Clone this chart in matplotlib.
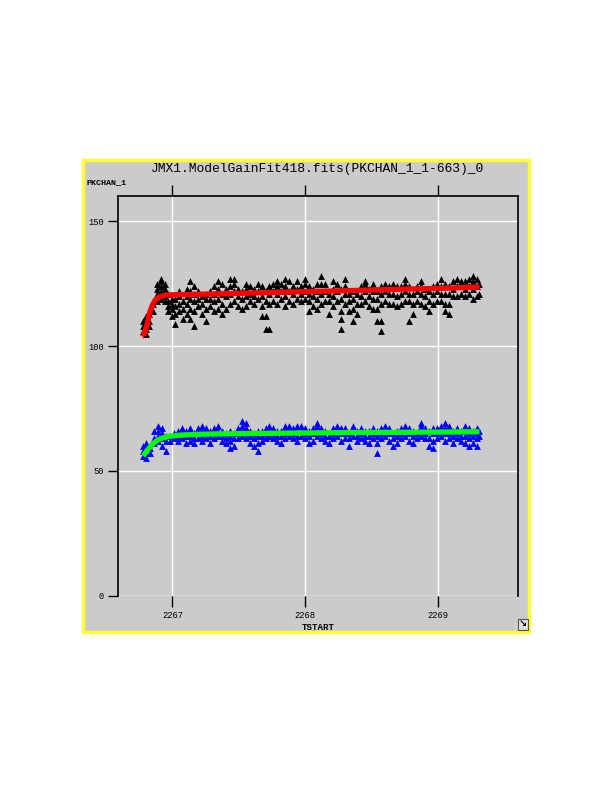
import numpy as np
import matplotlib
matplotlib.use('Agg')
import matplotlib.pyplot as plt
from matplotlib.patches import Rectangle

# Gain data (black)
black_t = [2266.78, 2266.78, 2266.78,
           2266.80, 2266.80, 2266.80, 2266.80, 2266.80,
           2266.82, 2266.82, 2266.82,
           2266.85, 2266.85,
           2266.88, 2266.88, 2266.88, 2266.88,
           2266.91, 2266.91, 2266.91, 2266.91, 2266.91,
           2266.94, 2266.94, 2266.94, 2266.94,
           2266.97, 2266.97, 2266.97, 2266.97,
           2267.00, 2267.00, 2267.00, 2267.00,
           2267.02, 2267.02, 2267.02, 2267.02,
           2267.05, 2267.05, 2267.05, 2267.05,
           2267.08, 2267.08, 2267.08,
           2267.11, 2267.11, 2267.11, 2267.11,
           2267.13, 2267.13, 2267.13, 2267.13, 2267.13,
           2267.16, 2267.16, 2267.16, 2267.16, 2267.16,
           2267.19, 2267.19, 2267.19,
           2267.22, 2267.22, 2267.22,
           2267.25, 2267.25, 2267.25, 2267.25,
           2267.28, 2267.28, 2267.28,
           2267.31, 2267.31, 2267.31, 2267.31,
           2267.34, 2267.34, 2267.34, 2267.34,
           2267.37, 2267.37, 2267.37, 2267.37,
           2267.40, 2267.40, 2267.40,
           2267.43, 2267.43, 2267.43, 2267.43,
           2267.46, 2267.46, 2267.46, 2267.46,
           2267.49, 2267.49, 2267.49,
           2267.52, 2267.52, 2267.52,
           2267.55, 2267.55, 2267.55, 2267.55,
           2267.58, 2267.58, 2267.58,
           2267.61, 2267.61, 2267.61,
           2267.64, 2267.64, 2267.64,
           2267.67, 2267.67, 2267.67, 2267.67,
           2267.70, 2267.70, 2267.70, 2267.70,
           2267.73, 2267.73, 2267.73, 2267.73,
           2267.76, 2267.76, 2267.76,
           2267.79, 2267.79, 2267.79, 2267.79,
           2267.82, 2267.82, 2267.82,
           2267.85, 2267.85, 2267.85, 2267.85,
           2267.88, 2267.88, 2267.88,
           2267.91, 2267.91, 2267.91,
           2267.94, 2267.94, 2267.94,
           2267.97, 2267.97, 2267.97,
           2268.00, 2268.00, 2268.00, 2268.00,
           2268.03, 2268.03, 2268.03, 2268.03,
           2268.06, 2268.06, 2268.06,
           2268.09, 2268.09, 2268.09, 2268.09,
           2268.12, 2268.12, 2268.12, 2268.12,
           2268.15, 2268.15, 2268.15,
           2268.18, 2268.18, 2268.18,
           2268.21, 2268.21, 2268.21, 2268.21,
           2268.24, 2268.24, 2268.24,
           2268.27, 2268.27, 2268.27, 2268.27, 2268.27,
           2268.30, 2268.30, 2268.30, 2268.30,
           2268.33, 2268.33, 2268.33,
           2268.36, 2268.36, 2268.36, 2268.36,
           2268.39, 2268.39, 2268.39,
           2268.42, 2268.42, 2268.42,
           2268.45, 2268.45, 2268.45, 2268.45,
           2268.48, 2268.48, 2268.48,
           2268.51, 2268.51, 2268.51, 2268.51,
           2268.54, 2268.54, 2268.54, 2268.54,
           2268.57, 2268.57, 2268.57, 2268.57, 2268.57,
           2268.60, 2268.60, 2268.60,
           2268.63, 2268.63, 2268.63,
           2268.66, 2268.66, 2268.66,
           2268.69, 2268.69, 2268.69,
           2268.72, 2268.72, 2268.72,
           2268.75, 2268.75, 2268.75, 2268.75,
           2268.78, 2268.78, 2268.78, 2268.78,
           2268.81, 2268.81, 2268.81,
           2268.84, 2268.84, 2268.84,
           2268.87, 2268.87, 2268.87, 2268.87,
           2268.90, 2268.90, 2268.90,
           2268.93, 2268.93, 2268.93,
           2268.96, 2268.96, 2268.96,
           2268.99, 2268.99, 2268.99,
           2269.02, 2269.02, 2269.02, 2269.02,
           2269.05, 2269.05, 2269.05, 2269.05,
           2269.08, 2269.08, 2269.08, 2269.08,
           2269.11, 2269.11, 2269.11,
           2269.14, 2269.14, 2269.14,
           2269.17, 2269.17, 2269.17,
           2269.20, 2269.20, 2269.20,
           2269.23, 2269.23, 2269.23,
           2269.26, 2269.26, 2269.26, 2269.26,
           2269.29, 2269.29, 2269.29,
           2269.31, 2269.31]
black_v = [106, 108, 110,
           105, 107, 109, 111, 112,
           108, 110, 113,
           114, 117,
           118, 121, 123, 125,
           119, 122, 124, 126, 127,
           118, 120, 123, 125,
           114, 116, 118, 121,
           112, 115, 117, 119,
           109, 113, 116, 119,
           114, 117, 120, 122,
           111, 115, 118,
           113, 117, 120, 123,
           111, 115, 119, 122, 126,
           108, 114, 118, 121, 124,
           116, 119, 122,
           113, 117, 120,
           110, 115, 119, 121,
           116, 119, 122,
           114, 118, 121, 124,
           115, 119, 123, 126,
           113, 117, 121, 125,
           115, 120, 123,
           117, 121, 124, 127,
           118, 122, 125, 127,
           116, 120, 123,
           115, 119, 122,
           116, 120, 123, 125,
           118, 121, 124,
           117, 120, 123,
           119, 122, 125,
           112, 116, 120, 124,
           107, 112, 118, 122,
           107, 117, 121, 124,
           118, 122, 125,
           117, 121, 124, 126,
           119, 122, 125,
           116, 120, 124, 127,
           118, 122, 126,
           117, 121, 124,
           119, 123, 126,
           118, 121, 124,
           119, 122, 125, 127,
           114, 118, 121, 124,
           116, 120, 123,
           115, 119, 122, 125,
           117, 121, 125, 128,
           118, 122, 125,
           113, 118, 121,
           116, 120, 123, 126,
           118, 122, 125,
           107, 111, 114, 119, 123,
           117, 121, 124, 127,
           114, 118, 121,
           110, 115, 119, 122,
           113, 117, 121,
           117, 120, 124,
           118, 122, 125, 126,
           116, 120, 123,
           115, 119, 122, 125,
           110, 115, 119, 122,
           106, 110, 117, 121, 124,
           118, 122, 125,
           117, 121, 124,
           117, 121, 125,
           116, 120, 124,
           117, 121, 124,
           118, 122, 125, 127,
           110, 118, 121, 124,
           113, 117, 121,
           118, 122, 124,
           117, 121, 124, 126,
           116, 120, 123,
           114, 118, 122,
           117, 121, 124,
           118, 122, 125,
           118, 121, 124, 127,
           114, 117, 121, 125,
           113, 117, 121, 124,
           120, 123, 126,
           120, 124, 127,
           121, 124, 126,
           120, 123, 126,
           121, 124, 127,
           119, 123, 126, 128,
           120, 124, 127,
           121, 125]

# Gain data (blue)
blue_t = [2266.78, 2266.78, 2266.78,
          2266.80, 2266.80, 2266.80, 2266.80,
          2266.83, 2266.83,
          2266.86, 2266.86, 2266.86,
          2266.89, 2266.89, 2266.89, 2266.89,
          2266.92, 2266.92, 2266.92, 2266.92,
          2266.95, 2266.95, 2266.95,
          2266.98, 2266.98,
          2267.01, 2267.01,
          2267.04, 2267.04, 2267.04,
          2267.07, 2267.07, 2267.07,
          2267.10, 2267.10, 2267.10,
          2267.13, 2267.13, 2267.13, 2267.13,
          2267.16, 2267.16, 2267.16,
          2267.19, 2267.19, 2267.19,
          2267.22, 2267.22, 2267.22, 2267.22,
          2267.25, 2267.25, 2267.25,
          2267.28, 2267.28, 2267.28,
          2267.31, 2267.31, 2267.31,
          2267.34, 2267.34, 2267.34,
          2267.37, 2267.37, 2267.37,
          2267.40, 2267.40, 2267.40,
          2267.43, 2267.43, 2267.43, 2267.43,
          2267.46, 2267.46, 2267.46,
          2267.49, 2267.49, 2267.49,
          2267.52, 2267.52, 2267.52, 2267.52,
          2267.55, 2267.55, 2267.55, 2267.55,
          2267.58, 2267.58, 2267.58,
          2267.61, 2267.61, 2267.61,
          2267.64, 2267.64, 2267.64, 2267.64,
          2267.67, 2267.67, 2267.67,
          2267.70, 2267.70, 2267.70,
          2267.73, 2267.73, 2267.73,
          2267.76, 2267.76, 2267.76,
          2267.79, 2267.79, 2267.79,
          2267.82, 2267.82, 2267.82,
          2267.85, 2267.85, 2267.85, 2267.85,
          2267.88, 2267.88, 2267.88,
          2267.91, 2267.91, 2267.91,
          2267.94, 2267.94, 2267.94, 2267.94,
          2267.97, 2267.97, 2267.97,
          2268.00, 2268.00, 2268.00,
          2268.03, 2268.03, 2268.03,
          2268.06, 2268.06, 2268.06,
          2268.09, 2268.09, 2268.09, 2268.09,
          2268.12, 2268.12, 2268.12,
          2268.15, 2268.15, 2268.15,
          2268.18, 2268.18,
          2268.21, 2268.21, 2268.21,
          2268.24, 2268.24, 2268.24,
          2268.27, 2268.27, 2268.27,
          2268.30, 2268.30, 2268.30,
          2268.33, 2268.33, 2268.33,
          2268.36, 2268.36, 2268.36,
          2268.39, 2268.39, 2268.39,
          2268.42, 2268.42, 2268.42,
          2268.45, 2268.45, 2268.45,
          2268.48, 2268.48, 2268.48,
          2268.51, 2268.51, 2268.51,
          2268.54, 2268.54, 2268.54, 2268.54,
          2268.57, 2268.57, 2268.57,
          2268.60, 2268.60, 2268.60,
          2268.63, 2268.63, 2268.63,
          2268.66, 2268.66, 2268.66,
          2268.69, 2268.69, 2268.69,
          2268.72, 2268.72, 2268.72,
          2268.75, 2268.75, 2268.75,
          2268.78, 2268.78, 2268.78,
          2268.81, 2268.81, 2268.81,
          2268.84, 2268.84,
          2268.87, 2268.87, 2268.87, 2268.87,
          2268.90, 2268.90, 2268.90,
          2268.93, 2268.93, 2268.93,
          2268.96, 2268.96, 2268.96, 2268.96,
          2268.99, 2268.99, 2268.99,
          2269.02, 2269.02, 2269.02,
          2269.05, 2269.05, 2269.05, 2269.05,
          2269.08, 2269.08, 2269.08,
          2269.11, 2269.11, 2269.11,
          2269.14, 2269.14, 2269.14,
          2269.17, 2269.17, 2269.17,
          2269.20, 2269.20, 2269.20, 2269.20,
          2269.23, 2269.23, 2269.23, 2269.23,
          2269.26, 2269.26, 2269.26,
          2269.29, 2269.29, 2269.29, 2269.29,
          2269.31, 2269.31]
blue_v = [56, 58, 60,
          55, 57, 59, 61,
          57, 59,
          61, 63, 66,
          62, 64, 66, 68,
          60, 63, 65, 67,
          58, 62, 64,
          62, 64,
          63, 65,
          62, 64, 66,
          63, 65, 67,
          61, 64, 66,
          62, 64, 66, 67,
          61, 63, 65,
          63, 65, 67,
          62, 64, 66, 68,
          63, 65, 67,
          61, 64, 66,
          63, 65, 67,
          64, 66, 68,
          62, 64, 66,
          61, 63, 65,
          59, 62, 64, 66,
          60, 63, 65,
          63, 65, 67,
          64, 66, 68, 70,
          63, 65, 67, 69,
          61, 64, 66,
          60, 63, 65,
          58, 61, 64, 66,
          62, 64, 66,
          63, 65, 67,
          64, 66, 68,
          63, 65, 67,
          62, 64, 66,
          61, 64, 66,
          63, 65, 67, 68,
          64, 66, 68,
          63, 65, 67,
          62, 64, 66, 68,
          64, 66, 68,
          63, 65, 67,
          61, 64, 66,
          62, 65, 67,
          64, 66, 68, 69,
          63, 65, 67,
          62, 64, 66,
          61, 64,
          63, 65, 67,
          64, 66, 68,
          62, 65, 67,
          63, 65, 67,
          60, 63, 65,
          64, 66, 68,
          62, 64, 66,
          63, 65, 67,
          62, 64, 66,
          61, 64, 66,
          63, 65, 67,
          57, 61, 64, 66,
          63, 65, 67,
          64, 66, 68,
          62, 65, 67,
          60, 63, 65,
          61, 64, 66,
          63, 65, 67,
          64, 66, 68,
          62, 65, 67,
          61, 64, 66,
          63, 65,
          64, 66, 68, 69,
          63, 65, 67,
          60, 63, 66,
          59, 62, 65, 67,
          63, 65, 67,
          64, 66, 68,
          62, 65, 67, 69,
          63, 65, 68,
          61, 64, 66,
          63, 65, 67,
          62, 64, 66,
          61, 64, 66, 68,
          60, 63, 65, 67,
          61, 64, 66,
          60, 63, 65, 67,
          64, 66]

# Model fits
red_t = [2266.78, 2266.795, 2266.81, 2266.82, 2266.832, 2266.85, 2266.87, 2266.89,
         2266.91, 2266.945, 2267.0, 2267.1, 2267.3, 2267.6, 2267.9, 2268.2,
         2268.5, 2268.8, 2269.1, 2269.31]
red_v = [104.5, 106.0, 109.0, 111.5, 114.0, 116.5, 118.4, 119.3,
         119.8, 120.3, 120.5, 120.6, 120.8, 121.2, 121.6, 122.0,
         122.4, 122.8, 123.2, 123.6]
green_t = [2266.78, 2266.80, 2266.83, 2266.86, 2266.89, 2266.93, 2266.98, 2267.05,
           2267.15, 2267.3, 2267.6, 2268.0, 2268.4, 2268.8, 2269.1, 2269.31]
green_v = [56.0, 57.5, 59.6, 61.2, 62.4, 63.3, 63.9, 64.3,
           64.6, 64.8, 65.0, 65.2, 65.4, 65.5, 65.6, 65.7]

x_ticks = [2267, 2268, 2269]
y_ticks = [0, 50, 100, 150]

gray = '#cbcbcb'
mono = 'Liberation Mono'

fig = plt.figure(figsize=(6.12, 7.92), dpi=100)
fig.patch.set_facecolor('white')

# Yellow-framed panel, drawn behind the axes
fig.patches.append(Rectangle((0.136, 0.2015), 0.728, 0.597, transform=fig.transFigure,
                             facecolor=gray, edgecolor='#ffff33', linewidth=2.5, zorder=-5))

ax = fig.add_axes([0.1928, 0.2475, 0.6536, 0.505])
ax.set_zorder(2)
ax.set_facecolor(gray)

ax.scatter(black_t, black_v, marker='^', s=24, color='black', linewidths=0, zorder=3)
ax.plot(red_t, red_v, color='#ff0000', lw=3.8, zorder=4, solid_capstyle='butt')
ax.plot(red_t[:4], red_v[:4], '+', color='#ff0000', ms=5, mew=1, zorder=4)
ax.scatter(blue_t, blue_v, marker='^', s=24, color='#0000ff', linewidths=0, zorder=3)
ax.plot(green_t, green_v, color='#00ff00', lw=3.8, zorder=4, solid_capstyle='butt')

ax.set_xlim(2266.59, 2269.60)
ax.set_ylim(0, 160)
ax.set_xticks(x_ticks)
ax.set_yticks(y_ticks)
ax.grid(True, color='white', lw=1)
ax.set_axisbelow(True)

for s in ['left', 'top', 'right']:
    ax.spines[s].set_color('black')
    ax.spines[s].set_linewidth(1.2)
ax.spines['bottom'].set_visible(False)

ax.tick_params(axis='x', which='both', top=True, bottom=True, direction='out',
               length=8, width=1, labelsize=6.3, pad=3)
ax.tick_params(axis='y', direction='out', length=7, width=1, labelsize=6.3, pad=3)
for lab in ax.get_xticklabels() + ax.get_yticklabels():
    lab.set_family(mono)

ax.set_title('JMX1.ModelGainFit418.fits(PKCHAN_1_1-663)_0', family=mono,
             fontsize=9.4, pad=17)
fig.text(0.142, 0.767, 'PKCHAN_1', family=mono, fontsize=6, fontweight='bold')
ax.set_xlabel('TSTART', family=mono, fontsize=6.6, fontweight='bold', labelpad=2)

# small resize icon at the bottom-right of the panel
fig.patches.append(Rectangle((0.8465, 0.205), 0.016, 0.014, transform=fig.transFigure,
                             facecolor='#e0e0e0', edgecolor='#555555', linewidth=0.8))
fig.text(0.8545, 0.212, '\u2198', ha='center', va='center', fontsize=7,
         family='DejaVu Sans', fontweight='bold')

plt.savefig('out.png', dpi=100)
